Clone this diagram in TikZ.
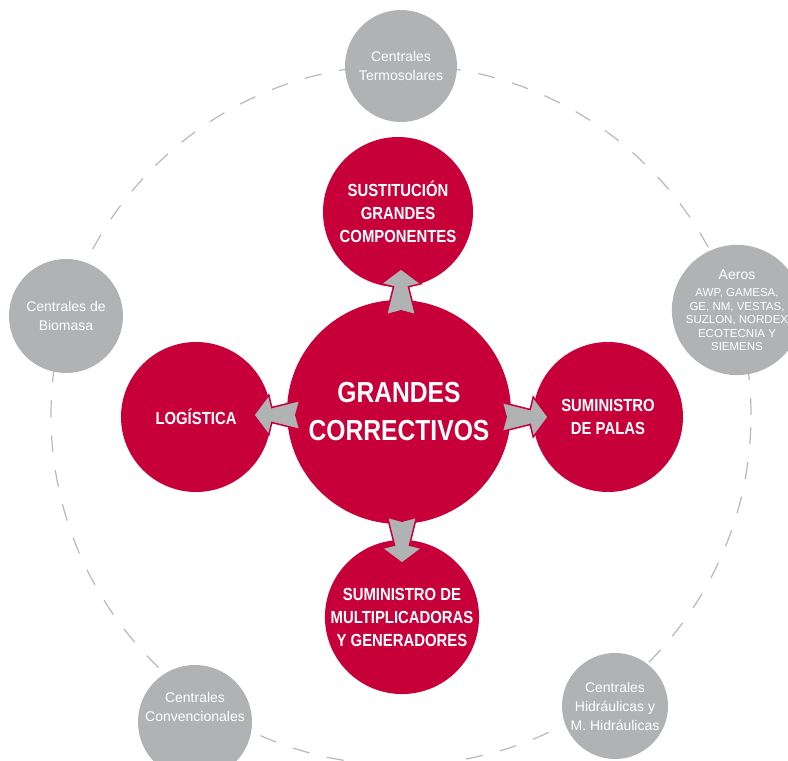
\documentclass[tikz,border=0pt]{standalone}
\usepackage{fontspec}
\setmainfont{Liberation Sans}
\newfontfamily\condfont[FakeStretch=0.85]{Liberation Sans}
\usetikzlibrary{calc}
\definecolor{crimson}{HTML}{C8003A}
\definecolor{softgray}{HTML}{B1B2B4}
\definecolor{dashgray}{HTML}{B8B8B8}
\begin{document}
\begin{tikzpicture}[x=1pt,y=1pt,
  redbig/.style={circle, fill=crimson, minimum size=224pt, inner sep=0pt, text=white, align=center,
    font=\condfont\bfseries\fontsize{29}{38}\selectfont},
  redsat/.style={circle, fill=crimson, minimum size=150pt, inner sep=0pt, text=white, align=center,
    font=\condfont\bfseries\fontsize{17.5}{23}\selectfont},
  graysat/.style={circle, fill=softgray, inner sep=0pt, text=white, align=center,
    font=\fontsize{14}{19}\selectfont},
  graytext/.style={text=white, align=center, inner sep=0pt, font=\fontsize{14}{19}\selectfont},
  orbit/.style={draw=dashgray, line width=1.2pt, dash pattern=on 17pt off 18pt},
  pics/bigarrow/.style={code={
    \filldraw[fill=softgray, draw=crimson, line width=1.5pt, line join=miter]
      (0,0) -- (-15,20) -- (-18,7.5) -- (-46,14.5) -- (-42,0) -- (-46,-14.5) -- (-18,-7.5) -- (-15,-20) -- cycle;}}
]
\useasboundingbox (0,0) rectangle (788,761);

% orbit
\coordinate (hub) at (401,346);
\draw[orbit] (hub) circle[radius=350];

% gray satellites
\node[graysat, minimum size=112pt] (termo) at (401,695) {Centrales\\Termosolares};
\node[graysat, minimum size=110pt, font=\fontsize{11.5}{13.5}\selectfont] (aeros) at (737,451)
  {{\fontsize{14}{16}\selectfont Aeros}\\[4pt]AWP, GAMESA,\\GE, NM, VESTAS,\\SUZLON, NORDEX\\ECOTECNIA Y\\SIEMENS};
\node[graysat, minimum size=114pt] (biomasa) at (66,445) {Centrales de\\Biomasa};
\node[graysat, minimum size=114pt] (conv) at (195,39) {};
\node[graytext] (convtext) at ($(conv)+(0,15)$) {Centrales\\Convencionales};
\node[graysat, minimum size=106pt] (hidr) at (615,55) {Centrales\\Hidráulicas y\\M. Hidráulicas};

% red circles
\node[redbig] (main) at (399,349) {GRANDES\\CORRECTIVOS};
\node[redsat] (top) at (398,549) {SUSTITUCIÓN\\GRANDES\\COMPONENTES};
\node[redsat] (left) at (196,344) {LOGÍSTICA};
\node[redsat] (right) at (608,344) {SUMINISTRO\\DE PALAS};
\node[redsat] (bottom) at (402,144) {SUMINISTRO DE\\MULTIPLICADORAS\\Y GENERADORES};

% arrows
\pic[rotate=90] at ($(main.north)+(2,31)$) {bigarrow};
\pic[rotate=180] at ($(main.west)+(-33,-3)$) {bigarrow};
\pic at ($(main.east)+(37,-5)$) {bigarrow};
\pic[rotate=-90] at ($(main.south)+(3,-39)$) {bigarrow};
\end{tikzpicture}
\end{document}
